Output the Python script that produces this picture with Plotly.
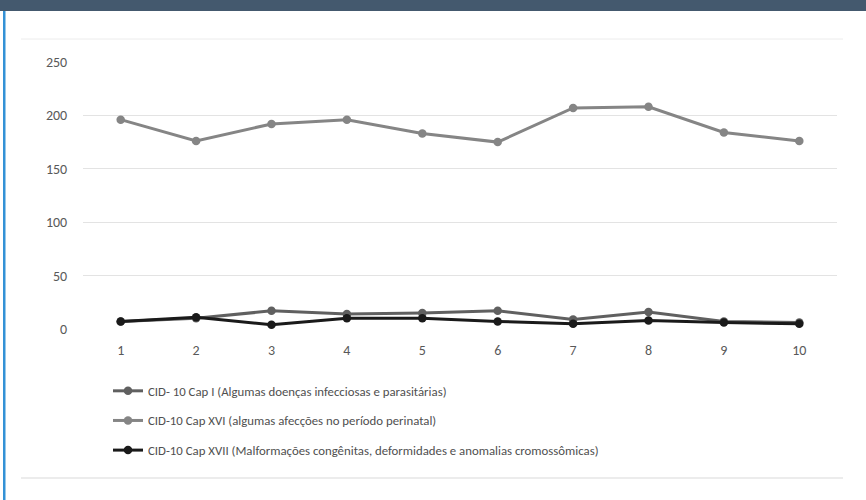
import plotly.graph_objects as go

# Anos da série (1 a 10) e óbitos por capítulo da CID-10
anos = [1, 2, 3, 4, 5, 6, 7, 8, 9, 10]
cap_i = [7, 10, 17, 14, 15, 17, 9, 16, 7, 6]
cap_xvi = [196, 176, 192, 196, 183, 175, 207, 208, 184, 176]
cap_xvii = [7, 11, 4, 10, 10, 7, 5, 8, 6, 5]

nomes = [
    "CID- 10 Cap I (Algumas doenças infecciosas e parasitárias)",
    "CID-10 Cap XVI (algumas afecções no período perinatal)",
    "CID-10 Cap XVII (Malformações congênitas, deformidades e anomalias cromossômicas)",
]
cores = ["#606060", "#858585", "#1a1a1a"]
series = [cap_i, cap_xvi, cap_xvii]

y_ticks = [0, 50, 100, 150, 200, 250]

FONT = "Carlito, Lato, sans-serif"

fig = go.Figure()
for i, (nome, cor, vals) in enumerate(zip(nomes, cores, series)):
    fig.add_trace(go.Scatter(
        x=anos, y=vals, name=nome, mode="lines+markers",
        line=dict(color=cor, width=3),
        marker=dict(color=cor, size=8.5),
        legendgroup=f"g{i}",
    ))

fig.update_layout(
    width=866, height=500,
    margin=dict(l=83, r=29, t=62, b=171, autoexpand=False),
    paper_bgcolor="white", plot_bgcolor="white",
    font=dict(family=FONT, size=12, color="#595959"),
    showlegend=True,
    legend=dict(
        xref="container", yref="container",
        x=108 / 866, y=1 - 376 / 500, xanchor="left", yanchor="top",
        orientation="v", tracegroupgap=10,
        font=dict(family=FONT, size=12.8, color="#505050"),
        bgcolor="rgba(0,0,0,0)",
    ),
    xaxis=dict(
        range=[0.5, 10.5], tickvals=anos, ticktext=[str(a) for a in anos],
        showgrid=False, zeroline=False, showline=False,
        ticks="outside", ticklen=8, tickcolor="rgba(0,0,0,0)",
        tickfont=dict(family=FONT, size=14, color="#595959"),
    ),
    yaxis=dict(
        range=[0, 250], tickvals=y_ticks,
        showgrid=True, gridcolor="#e3e3e3", gridwidth=1,
        zeroline=False, showline=False,
        ticks="outside", ticklen=12, tickcolor="rgba(0,0,0,0)",
        tickfont=dict(family=FONT, size=14, color="#595959"),
    ),
    shapes=[
        # faixa do cabeçalho
        dict(type="rect", xref="paper", yref="paper",
             x0=-83 / 754, x1=1 + 29 / 754, y0=1 + (62 - 11) / 267, y1=1 + 62 / 267,
             fillcolor="#44596e", line=dict(width=0), layer="above"),
        # borda azul à esquerda
        dict(type="rect", xref="paper", yref="paper",
             x0=-(83 - 3) / 754, x1=-(83 - 5.5) / 754, y0=-171 / 267, y1=1 + (62 - 11) / 267,
             fillcolor="#3391d6", line=dict(width=0), layer="above"),
        # linhas de moldura da área do gráfico
        dict(type="line", xref="paper", yref="paper",
             x0=-(83 - 21) / 754, x1=1 + (843 - 837) / 754,
             y0=1 + (62 - 39) / 267, y1=1 + (62 - 39) / 267,
             line=dict(color="#ececec", width=1)),
        dict(type="line", xref="paper", yref="paper",
             x0=-(83 - 21) / 754, x1=1 + (843 - 837) / 754,
             y0=-(478 - 329) / 267, y1=-(478 - 329) / 267,
             line=dict(color="#e6e6e6", width=1.5)),
    ],
)

fig.write_html("out.html")
